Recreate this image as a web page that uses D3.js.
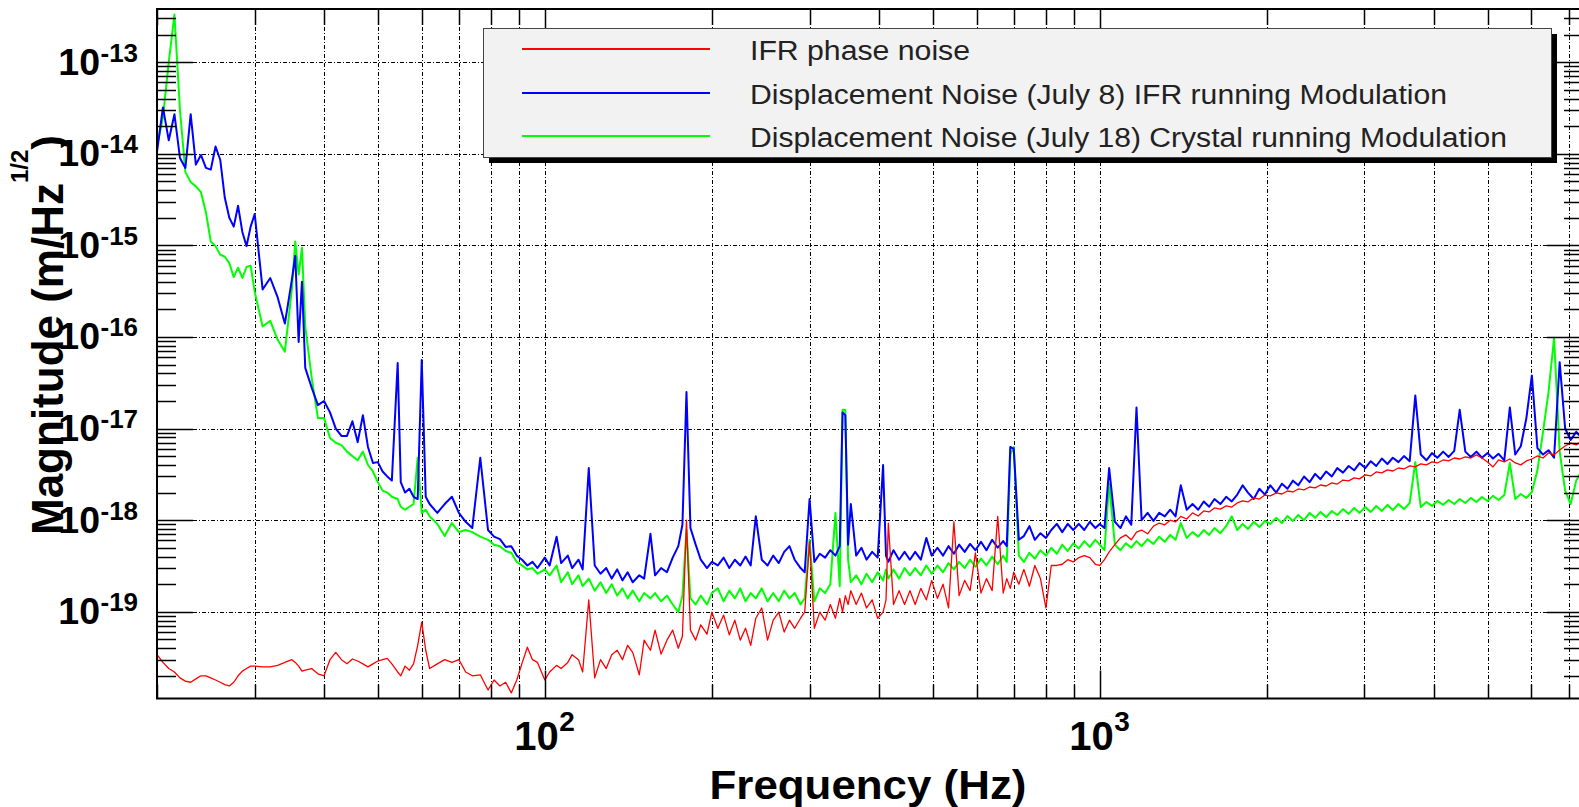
<!DOCTYPE html>
<html>
<head>
<meta charset="utf-8">
<script src="https://cdn.jsdelivr.net/npm/d3@7"></script>
<style>
  html, body { margin: 0; padding: 0; background: #fff; }
  svg { display: block; }
  text { font-family: "Liberation Sans", Arial, Helvetica, sans-serif; }
</style>
</head>
<body>
<div id="viz"></div>
<script>
'use strict';

// frequency grid shared by the three spectra (Hz)
const freqHz = [
  20, 20.5, 21, 21.5, 22, 22.5, 23, 23.5, 24, 24.5,
  25, 25.5, 26, 26.5, 27, 27.5, 28, 28.5, 29, 29.5,
  30, 31, 32, 33, 34, 35, 35.5, 36, 36.5, 37,
  38, 39, 40, 41, 42, 43, 44, 45, 46, 47,
  48, 49, 50, 51, 52, 53, 54.3, 55, 56, 57,
  58, 59, 60, 61, 62, 64, 66, 68, 70, 72,
  74, 76.5, 79, 81, 83, 85, 87, 89, 91, 93,
  95, 97, 100, 102, 105, 107, 110, 112, 115, 117,
  120, 123, 126, 129, 132, 135, 138, 141, 144, 148,
  151, 155, 158, 162, 166, 170, 174, 177, 180, 183,
  187, 191, 196, 200, 205, 210, 215, 220, 225, 230,
  235, 240, 246, 252, 258, 264, 270, 276, 282, 289,
  294, 300, 306, 313, 320, 327, 334, 340, 344, 348,
  352, 356, 364, 372, 380, 389, 398, 407, 412, 416,
  425, 435, 445, 455, 465, 476, 487, 498, 510, 522,
  534, 546, 558, 571, 584, 597, 611, 625, 640, 655,
  670, 680, 690, 700, 715, 730, 747, 764, 782, 800,
  818, 837, 856, 876, 896, 917, 938, 960, 982, 1000,
  1020, 1040, 1065, 1090, 1115, 1140, 1165, 1190, 1220, 1250,
  1280, 1310, 1340, 1370, 1400, 1435, 1470, 1505, 1540, 1575,
  1610, 1650, 1690, 1730, 1770, 1810, 1850, 1895, 1940, 1985,
  2030, 2080, 2130, 2180, 2230, 2280, 2335, 2390, 2445, 2500,
  2560, 2620, 2680, 2745, 2810, 2875, 2940, 3010, 3080, 3150,
  3225, 3300, 3375, 3455, 3535, 3620, 3705, 3790, 3880, 3970,
  4060, 4160, 4255, 4355, 4455, 4560, 4665, 4775, 4885, 5000,
  5115, 5235, 5360, 5485, 5610, 5740, 5875, 6010, 6150, 6295,
  6440, 6590, 6745, 6900, 7060, 7225, 7390
];

// IFR phase noise (red)
const ifrPhaseNoise = [
  3.4e-20, 2.8e-20, 2.4e-20, 2.2e-20, 1.9e-20, 1.75e-20, 1.7e-20, 1.85e-20, 2.0e-20, 2.0e-20,
  1.9e-20, 1.8e-20, 1.7e-20, 1.6e-20, 1.55e-20, 1.7e-20, 2.0e-20, 2.25e-20, 2.4e-20, 2.55e-20,
  2.55e-20, 2.5e-20, 2.5e-20, 2.6e-20, 2.8e-20, 3.0e-20, 2.8e-20, 2.55e-20, 2.25e-20, 2.3e-20,
  2.4e-20, 2.1e-20, 2.0e-20, 3.0e-20, 3.6e-20, 3.0e-20, 2.7e-20, 3.05e-20, 2.9e-20, 2.7e-20,
  2.5e-20, 2.7e-20, 2.9e-20, 3.0e-20, 3.1e-20, 2.7e-20, 2.2e-20, 2.0e-20, 2.55e-20, 2.3e-20,
  2.7e-20, 4.3e-20, 7.7e-20, 3.8e-20, 2.4e-20, 2.7e-20, 3.0e-20, 2.8e-20, 3.0e-20, 2.2e-20,
  2.0e-20, 2.05e-20, 1.4e-20, 1.8e-20, 1.55e-20, 1.7e-20, 1.3e-20, 1.8e-20, 2.75e-20, 4.1e-20,
  3.0e-20, 2.8e-20, 1.8e-20, 2.2e-20, 2.6e-20, 2.4e-20, 2.8e-20, 3.4e-20, 3.0e-20, 2.2e-20,
  1.35e-19, 1.9e-20, 3.0e-20, 2.4e-20, 3.4e-20, 3.8e-20, 3.0e-20, 4.3e-20, 3.6e-20, 2.05e-20,
  4.9e-20, 3.8e-20, 6.3e-20, 3.45e-20, 4.9e-20, 6.3e-20, 4.0e-20, 5.4e-20, 1.0e-18, 6.3e-20,
  4.9e-20, 7.2e-20, 5.7e-20, 9.9e-20, 6.6e-20, 9.2e-20, 5.6e-20, 8.1e-20, 4.9e-20, 6.6e-20,
  4.3e-20, 8.5e-20, 1.1e-19, 4.9e-20, 8.1e-20, 9.9e-20, 6.0e-20, 8.1e-20, 6.6e-20, 8.5e-20,
  9.9e-20, 5.8e-19, 6.6e-20, 9.9e-20, 8.1e-20, 1.2e-19, 8.5e-20, 1.4e-19, 9.9e-20, 1.5e-19,
  1.2e-19, 1.7e-19, 1.2e-19, 1.6e-19, 1.1e-19, 1.35e-19, 8.5e-20, 9.9e-20, 1.35e-19, 9.3e-19,
  1.2e-19, 1.7e-19, 1.2e-19, 1.7e-19, 1.2e-19, 1.8e-19, 1.35e-19, 2.2e-19, 1.4e-19, 2.0e-19,
  1.1e-19, 9.6e-19, 1.5e-19, 2.2e-19, 1.7e-19, 4.4e-19, 1.6e-19, 2.3e-19, 1.7e-19, 1.1e-18,
  1.6e-19, 2.3e-19, 1.8e-19, 2.7e-19, 2.0e-19, 2.9e-19, 1.9e-19, 3.2e-19, 2.3e-19, 1.1e-19,
  3.2e-19, 3.2e-19, 3.3e-19, 3.7e-19, 3.5e-19, 3.9e-19, 4.1e-19, 3.9e-19, 3.3e-19, 3.2e-19,
  3.7e-19, 4.5e-19, 5.4e-19, 6.4e-19, 6.9e-19, 6.1e-19, 7.4e-19, 7.8e-19, 7.1e-19, 8.6e-19,
  9.3e-19, 8.9e-19, 1.0e-18, 9.6e-19, 1.1e-18, 1.03e-18, 1.2e-18, 1.11e-18, 1.26e-18, 1.23e-18,
  1.36e-18, 1.32e-18, 1.43e-18, 1.39e-18, 1.54e-18, 1.62e-18, 1.58e-18, 1.75e-18, 1.70e-18, 1.88e-18,
  1.84e-18, 1.98e-18, 1.93e-18, 2.08e-18, 2.03e-18, 2.19e-18, 2.14e-18, 2.30e-18, 2.25e-18, 2.42e-18,
  2.36e-18, 2.55e-18, 2.48e-18, 2.74e-18, 2.68e-18, 2.89e-18, 2.82e-18, 3.12e-18, 3.04e-18, 3.36e-18,
  3.28e-18, 3.54e-18, 3.44e-18, 3.71e-18, 3.62e-18, 3.91e-18, 3.81e-18, 4.11e-18, 4.01e-18, 4.32e-18,
  4.21e-18, 4.54e-18, 4.43e-18, 4.77e-18, 4.65e-18, 4.90e-18, 4.77e-18, 5.16e-18, 4.77e-18, 4.32e-18,
  3.81e-18, 4.54e-18, 4.32e-18, 4.65e-18, 4.21e-18, 4.01e-18, 4.43e-18, 4.65e-18, 5.02e-18, 4.77e-18,
  5.42e-18, 5.16e-18, 5.84e-18, 6.45e-18, 6.96e-18, 6.62e-18, 7.32e-18
];

// Displacement noise, July 8, IFR running modulation (blue)
const july8Noise = [
  1.05e-14, 3.2e-14, 1.4e-14, 2.7e-14, 9.0e-15, 7.0e-15, 2.7e-14, 7.6e-15, 9.7e-15, 7.0e-15,
  6.7e-15, 1.2e-14, 8.6e-15, 3.3e-15, 2.0e-15, 1.6e-15, 2.7e-15, 1.4e-15, 9.8e-16, 1.6e-15,
  2.2e-15, 3.3e-16, 4.4e-16, 2.7e-16, 1.4e-16, 4.2e-16, 7.7e-16, 8.8e-17, 4.0e-16, 4.6e-17,
  2.8e-17, 1.8e-17, 2.0e-17, 1.5e-17, 1.0e-17, 8.3e-18, 8.3e-18, 1.2e-17, 7.1e-18, 1.4e-17,
  6.3e-18, 4.2e-18, 4.3e-18, 3.4e-18, 3.0e-18, 2.7e-18, 5.2e-17, 2.6e-18, 2.0e-18, 2.2e-18,
  1.8e-18, 1.7e-18, 5.6e-17, 1.8e-18, 1.5e-18, 1.2e-18, 1.5e-18, 1.8e-18, 1.2e-18, 9.6e-19,
  8.2e-19, 4.8e-18, 7.8e-19, 6.6e-19, 6.2e-19, 5.1e-19, 5.2e-19, 4.1e-19, 3.7e-19, 3.2e-19,
  3.5e-19, 3.0e-19, 3.9e-19, 3.2e-19, 6.6e-19, 3.4e-19, 4.1e-19, 3.0e-19, 3.7e-19, 2.9e-19,
  3.7e-18, 3.2e-19, 2.6e-19, 3.0e-19, 2.3e-19, 2.9e-19, 2.2e-19, 2.7e-19, 2.1e-19, 2.5e-19,
  2.3e-19, 7.1e-19, 2.5e-19, 3.0e-19, 2.7e-19, 3.9e-19, 5.2e-19, 8.9e-19, 2.5e-17, 8.2e-19,
  5.4e-19, 3.7e-19, 3.0e-19, 3.5e-19, 3.2e-19, 3.9e-19, 3.0e-19, 3.7e-19, 3.2e-19, 4.0e-19,
  3.2e-19, 1.1e-18, 3.7e-19, 3.2e-19, 4.1e-19, 3.4e-19, 4.5e-19, 5.2e-19, 3.7e-19, 3.0e-19,
  2.7e-19, 1.7e-18, 3.5e-19, 4.3e-19, 3.9e-19, 4.7e-19, 4.1e-19, 5.2e-19, 1.5e-17, 1.4e-17,
  5.4e-19, 1.5e-18, 4.1e-19, 5.0e-19, 3.7e-19, 4.5e-19, 3.9e-19, 4.0e-18, 4.1e-19, 3.5e-19,
  4.7e-19, 3.7e-19, 4.5e-19, 3.7e-19, 4.5e-19, 3.7e-19, 6.4e-19, 4.1e-19, 5.0e-19, 4.1e-19,
  5.2e-19, 4.3e-19, 5.4e-19, 4.5e-19, 5.5e-19, 4.7e-19, 5.8e-19, 4.7e-19, 6.1e-19, 5.0e-19,
  5.9e-19, 5.2e-19, 6.3e-18, 6.0e-18, 6.1e-19, 6.7e-19, 8.6e-19, 6.1e-19, 7.2e-19, 6.4e-19,
  7.8e-19, 9.1e-19, 7.4e-19, 9.1e-19, 7.8e-19, 9.1e-19, 7.8e-19, 9.6e-19, 8.2e-19, 9.1e-19,
  8.2e-19, 3.7e-18, 9.6e-19, 8.2e-19, 1.1e-18, 8.9e-19, 1.7e-17, 1.0e-18, 1.2e-18, 9.8e-19,
  1.2e-18, 1.1e-18, 1.3e-18, 1.1e-18, 2.4e-18, 1.3e-18, 1.5e-18, 1.3e-18, 1.6e-18, 1.4e-18,
  1.7e-18, 1.5e-18, 1.8e-18, 1.6e-18, 1.9e-18, 2.4e-18, 2.0e-18, 1.7e-18, 2.2e-18, 1.9e-18,
  2.4e-18, 2.0e-18, 2.5e-18, 2.2e-18, 2.7e-18, 2.4e-18, 3.0e-18, 2.6e-18, 3.2e-18, 2.8e-18,
  3.4e-18, 3.0e-18, 3.7e-18, 3.3e-18, 3.9e-18, 3.5e-18, 4.2e-18, 3.7e-18, 4.4e-18, 3.9e-18,
  4.7e-18, 4.1e-18, 4.8e-18, 4.3e-18, 5.0e-18, 4.4e-18, 2.3e-17, 5.2e-18, 4.5e-18, 5.4e-18,
  4.8e-18, 5.6e-18, 4.9e-18, 5.7e-18, 1.6e-17, 5.6e-18, 4.9e-18, 5.6e-18, 4.8e-18, 5.4e-18,
  4.7e-18, 5.3e-18, 4.5e-18, 1.7e-17, 5.2e-18, 6.4e-18, 1.3e-17, 3.8e-17, 6.1e-18, 5.2e-18,
  5.8e-18, 4.8e-18, 5.3e-17, 1.0e-17, 7.5e-18, 9.2e-18, 7.9e-18
];

// Displacement noise, July 18, crystal running modulation (green)
const july18Noise = [
  1.2e-14, 2.5e-14, 1.0e-13, 3.3e-13, 3.0e-14, 6.3e-15, 4.9e-15, 4.4e-15, 3.8e-15, 2.3e-15,
  1.1e-15, 9.8e-16, 7.9e-16, 7.5e-16, 6.4e-16, 4.5e-16, 5.7e-16, 4.4e-16, 5.8e-16, 6.0e-16,
  3.1e-16, 1.3e-16, 1.5e-16, 9.3e-17, 6.9e-17, 3.3e-16, 1.1e-15, 4.8e-16, 9.4e-16, 1.3e-16,
  3.6e-17, 1.3e-17, 1.3e-17, 7.9e-18, 7.0e-18, 6.6e-18, 5.6e-18, 5.0e-18, 4.5e-18, 5.6e-18,
  4.0e-18, 3.4e-18, 2.6e-18, 2.1e-18, 2.0e-18, 1.8e-18, 1.7e-18, 1.4e-18, 1.3e-18, 1.4e-18,
  1.5e-18, 4.8e-18, 1.2e-18, 1.3e-18, 1.1e-18, 9.1e-19, 6.7e-19, 9.3e-19, 7.4e-19, 7.8e-19,
  7.4e-19, 6.6e-19, 6.1e-19, 5.4e-19, 5.2e-19, 4.6e-19, 4.4e-19, 3.5e-19, 3.2e-19, 2.9e-19,
  3.0e-19, 2.6e-19, 2.9e-19, 2.5e-19, 3.2e-19, 2.1e-19, 2.7e-19, 2.0e-19, 2.5e-19, 1.9e-19,
  2.3e-19, 1.7e-19, 2.1e-19, 1.6e-19, 2.0e-19, 1.5e-19, 1.8e-19, 1.4e-19, 1.7e-19, 1.3e-19,
  1.6e-19, 1.4e-19, 1.6e-19, 1.3e-19, 1.5e-19, 1.2e-19, 9.9e-20, 1.5e-19, 7.8e-19, 1.4e-19,
  1.2e-19, 1.5e-19, 1.2e-19, 1.6e-19, 1.8e-19, 1.3e-19, 1.7e-19, 1.4e-19, 1.8e-19, 1.3e-19,
  1.6e-19, 1.4e-19, 1.8e-19, 1.3e-19, 1.6e-19, 1.3e-19, 1.7e-19, 1.4e-19, 1.6e-19, 1.2e-19,
  1.4e-19, 6.1e-19, 1.3e-19, 1.8e-19, 1.6e-19, 2.0e-19, 1.2e-18, 1.9e-19, 1.6e-17, 1.6e-17,
  3.7e-19, 2.1e-19, 2.5e-19, 2.0e-19, 2.6e-19, 2.1e-19, 2.7e-19, 2.2e-19, 2.9e-19, 2.3e-19,
  2.9e-19, 2.3e-19, 3.0e-19, 2.5e-19, 3.0e-19, 2.5e-19, 3.2e-19, 2.6e-19, 3.2e-19, 2.7e-19,
  3.4e-19, 2.9e-19, 3.5e-19, 3.0e-19, 3.7e-19, 3.1e-19, 3.8e-19, 3.2e-19, 4.0e-19, 3.3e-19,
  4.1e-19, 3.5e-19, 5.2e-18, 6.3e-18, 4.1e-19, 3.5e-19, 4.4e-19, 3.8e-19, 4.7e-19, 4.1e-19,
  5.0e-19, 4.3e-19, 5.4e-19, 4.6e-19, 5.6e-19, 4.9e-19, 5.9e-19, 5.1e-19, 6.1e-19, 5.4e-19,
  4.7e-19, 2.5e-18, 5.4e-19, 4.7e-19, 5.6e-19, 5.0e-19, 5.9e-19, 5.2e-19, 6.2e-19, 5.5e-19,
  6.6e-19, 5.8e-19, 6.9e-19, 6.1e-19, 9.3e-19, 6.4e-19, 7.4e-19, 6.6e-19, 7.8e-19, 6.9e-19,
  8.2e-19, 7.2e-19, 8.6e-19, 1.1e-18, 7.8e-19, 9.1e-19, 8.0e-19, 9.6e-19, 8.4e-19, 9.8e-19,
  9.1e-19, 1.06e-18, 9.3e-19, 1.11e-18, 9.8e-19, 1.14e-18, 1.0e-18, 1.2e-18, 1.06e-18, 1.23e-18,
  1.08e-18, 1.26e-18, 1.14e-18, 1.32e-18, 1.17e-18, 1.36e-18, 1.2e-18, 1.39e-18, 1.23e-18, 1.43e-18,
  1.26e-18, 1.47e-18, 1.29e-18, 1.5e-18, 1.32e-18, 1.54e-18, 4.3e-18, 1.39e-18, 1.58e-18, 1.43e-18,
  1.62e-18, 1.47e-18, 1.66e-18, 1.5e-18, 1.7e-18, 1.54e-18, 1.75e-18, 1.58e-18, 1.79e-18, 1.62e-18,
  1.84e-18, 1.66e-18, 1.88e-18, 4.2e-18, 1.7e-18, 1.93e-18, 1.75e-18, 2.03e-18, 3.5e-18, 9.2e-18,
  2.5e-17, 9.8e-17, 5.6e-18, 2.1e-18, 1.5e-18, 2.7e-18, 3.5e-18
];

const seriesNames = [
  'IFR phase noise',
  'Displacement Noise (July 8) IFR running Modulation',
  'Displacement Noise (July 18) Crystal running Modulation'
];
const seriesValues = [ifrPhaseNoise, july8Noise, july18Noise];
const seriesColors = ['#ff0000', '#0000ff', '#00ff00'];

const xLabelPowers = [2, 3];
const yLabelPowers = [-19, -18, -17, -16, -15, -14, -13];

const W = 1579, H = 807;
const plot = {left: 157, right: 1582, top: 9, bottom: 698.5};

seriesValues.forEach((s, i) => {
  if (s.length !== freqHz.length)
    console.error('length mismatch in series ' + i + ': ' + s.length + ' vs ' + freqHz.length);
});

const svg = d3.select('#viz')
  .append('svg')
    .attr('width', W)
    .attr('height', H);

svg.append('rect')
  .attr('width', W)
  .attr('height', H)
  .attr('fill', '#fff');

const x = d3.scaleLog()
  .domain([20, 7400])
  .range([plot.left, plot.right]);

const y = d3.scaleLog()
  .domain([1.13e-20, 3.8e-13])
  .range([plot.bottom, plot.top]);

const isDecade = v => Math.abs(Math.log10(v) - Math.round(Math.log10(v))) < 1e-6;
const px = v => Math.round(v) + 0.5;

const xTicks = x.ticks();
const yTicks = y.ticks();

// dashed grid: every x tick, y decades only
const grid = svg.append('g')
  .attr('stroke', '#000')
  .attr('stroke-width', 1)
  .attr('stroke-dasharray', '4,2,1,2');

grid.append('g').selectAll('line')
  .data(xTicks.filter(t => t > 20))
  .join('line')
    .attr('x1', d => px(x(d)))
    .attr('x2', d => px(x(d)))
    .attr('y1', plot.top)
    .attr('y2', plot.bottom);

grid.append('g').selectAll('line')
  .data(yTicks.filter(isDecade))
  .join('line')
    .attr('x1', plot.left)
    .attr('x2', plot.right)
    .attr('y1', d => px(y(d)))
    .attr('y2', d => px(y(d)));

// spectra
svg.append('clipPath').attr('id', 'plotclip')
  .append('rect')
    .attr('x', plot.left)
    .attr('y', plot.top)
    .attr('width', plot.right - plot.left)
    .attr('height', plot.bottom - plot.top);

const line = d3.line()
  .x(d => x(d[0]))
  .y(d => y(d[1]));

// green under blue under red, as in the original
const drawOrder = [2, 1, 0];
const lines = svg.append('g').attr('clip-path', 'url(#plotclip)');

drawOrder.forEach(i => {
  lines.append('path')
    .datum(freqHz.map((f, k) => [f, seriesValues[i][k]]))
    .attr('fill', 'none')
    .attr('stroke', seriesColors[i])
    .attr('stroke-width', i === 0 ? 1.3 : 2)
    .attr('stroke-linejoin', 'round')
    .attr('d', line);
});

// ticks
const ticks = svg.append('g')
  .attr('stroke', '#000')
  .attr('stroke-width', 1.5);

ticks.append('g').selectAll('line')
  .data(yTicks)
  .join('line')
    .attr('x1', plot.left)
    .attr('x2', d => plot.left + (isDecade(d) ? 36 : 19))
    .attr('y1', d => px(y(d)))
    .attr('y2', d => px(y(d)));

ticks.append('g').selectAll('line')
  .data(yTicks)
  .join('line')
    .attr('x1', plot.right)
    .attr('x2', d => plot.right - (isDecade(d) ? 35 : 18))
    .attr('y1', d => px(y(d)))
    .attr('y2', d => px(y(d)));

ticks.append('g').selectAll('line')
  .data(xTicks)
  .join('line')
    .attr('x1', d => px(x(d)))
    .attr('x2', d => px(x(d)))
    .attr('y1', plot.bottom)
    .attr('y2', d => plot.bottom - (isDecade(d) ? 28 : 14));

ticks.append('g').selectAll('line')
  .data(xTicks)
  .join('line')
    .attr('x1', d => px(x(d)))
    .attr('x2', d => px(x(d)))
    .attr('y1', plot.top)
    .attr('y2', d => plot.top + (isDecade(d) ? 28 : 16));

// frame
svg.append('path')
  .attr('fill', 'none')
  .attr('stroke', '#000')
  .attr('stroke-width', 2)
  .attr('d', `M${plot.right},${plot.top}H${plot.left}V${plot.bottom}H${plot.right}`);

// y tick labels
const labels = svg.append('g')
  .attr('font-weight', 'bold')
  .attr('fill', '#000');

yLabelPowers.forEach(p => {
  const ty = y(Math.pow(10, p));
  labels.append('text')
    .attr('x', 100)
    .attr('y', ty + 12.5)
    .attr('text-anchor', 'end')
    .attr('font-size', 37.5)
    .text('10');
  labels.append('text')
    .attr('x', 100.5)
    .attr('y', ty - 0.5)
    .attr('font-size', 26)
    .text(String(p));
});

// x tick labels
xLabelPowers.forEach(p => {
  const tx = x(Math.pow(10, p));
  labels.append('text')
    .attr('x', tx + 14)
    .attr('y', 750)
    .attr('text-anchor', 'end')
    .attr('font-size', 40)
    .text('10');
  labels.append('text')
    .attr('x', tx + 14.5)
    .attr('y', 731)
    .attr('font-size', 28)
    .text(String(p));
});

// axis titles
svg.append('text')
  .attr('x', 868)
  .attr('y', 799)
  .attr('text-anchor', 'middle')
  .attr('font-size', 40)
  .attr('font-weight', 'bold')
  .attr('textLength', 317)
  .attr('lengthAdjust', 'spacingAndGlyphs')
  .text('Frequency (Hz)');

const yTitle = svg.append('text')
  .attr('transform', 'translate(63,535) rotate(-90)')
  .attr('font-size', 44)
  .attr('font-weight', 'bold');
yTitle.append('tspan').text('Magnitude (m/Hz');
yTitle.append('tspan').attr('dy', -35).attr('font-size', 24).text('1/2');
yTitle.append('tspan').attr('dy', 35).text(')');

// legend
const legend = svg.append('g');
legend.append('rect')
  .attr('x', 489).attr('y', 34)
  .attr('width', 1068).attr('height', 129)
  .attr('fill', '#000');
legend.append('rect')
  .attr('x', 483.5).attr('y', 28.5)
  .attr('width', 1068).attr('height', 129)
  .attr('fill', '#f2f2f2')
  .attr('stroke', '#444')
  .attr('stroke-width', 1);

const rowY = [49, 93, 136];
const textLen = [220, 697, 757];

seriesNames.forEach((name, i) => {
  legend.append('line')
    .attr('x1', 522).attr('x2', 710)
    .attr('y1', rowY[i]).attr('y2', rowY[i])
    .attr('stroke', seriesColors[i])
    .attr('stroke-width', 2);
  legend.append('text')
    .attr('x', 750)
    .attr('y', rowY[i] + 10.5)
    .attr('font-size', 27)
    .attr('fill', '#222')
    .attr('textLength', textLen[i])
    .attr('lengthAdjust', 'spacingAndGlyphs')
    .text(name);
});
</script>
</body>
</html>
